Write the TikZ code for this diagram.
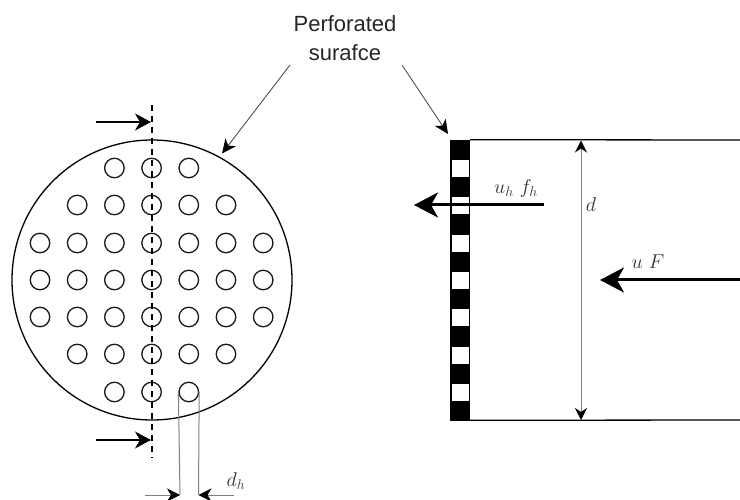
\RequirePackage{fix-cm}
\documentclass[tikz,border=0pt]{standalone}
\usepackage{fontspec}
\usetikzlibrary{arrows.meta}
\newfontfamily\labelfont{Liberation Sans}
\tikzset{
  hole/.style={circle,draw=black!90,line width=1.3pt,minimum size=19.5pt,inner sep=0pt},
  wall/.style={draw=black,fill=black,minimum width=19.5pt,minimum height=280pt,inner sep=0pt,line width=0.6pt},
  slot/.style={fill=white,draw=none,minimum width=17pt,minimum height=17pt,inner sep=0pt},
  bigtip/.style={-{Stealth[length=24pt,width=25pt,inset=7pt]},line width=3pt},
  midtip/.style={-{Stealth[length=16pt,width=17pt,inset=5pt]},line width=1.5pt},
  thintip/.style={-{Stealth[length=14pt,width=13pt,inset=4pt,black]},line width=0.8pt,draw=black!75},
  dim/.style={{Stealth[length=12pt,width=12pt,inset=4pt,black]}-{Stealth[length=12pt,width=12pt,inset=4pt,black]},line width=1pt,draw=black!50},
  dimone/.style={-{Stealth[length=13pt,width=13pt,inset=4pt,black]},line width=1pt,draw=black!50},
  guide/.style={line width=1pt,draw=black!50},
  mathlabel/.style={inner sep=0pt,text=black!80,font=\fontsize{20}{24}\selectfont},
}
\begin{document}
\begin{tikzpicture}[x=1pt,y=-1pt]
\useasboundingbox (0,0) rectangle (740,500);
% disc
\node[circle,draw=black,line width=1.3pt,minimum size=280pt,inner sep=0pt] (disc) at (152,280) {};
\foreach \r/\yy/\cfrom/\cto in {1/168/3/5,2/205/2/6,3/243/1/7,4/280/1/7,5/317/1/7,6/354/2/6,7/392/3/5}{
  \foreach \c in {\cfrom,...,\cto}{
    \pgfmathsetmacro{\xx}{40+37.2*(\c-1)}
    \node[hole] (h\r\c) at (\xx,\yy) {};
  }
}
\coordinate (cuttop) at (152,105);
\coordinate (cutbot) at (152,458);
\draw[line width=1.3pt,dash pattern=on 6pt off 5pt] (cuttop) -- (cutbot);
\coordinate (s1) at (96,122);
\coordinate (e1) at (151,122);
\coordinate (s2) at (96,440);
\coordinate (e2) at (151,440);
\draw[midtip] (s1) -- (e1);
\draw[midtip] (s2) -- (e2);
% hole width dimension
\coordinate (dl) at (180,495);
\coordinate (dr) at (198.5,495);
\coordinate (dl0) at (145,495);
\coordinate (dr0) at (234,495);
\draw[guide] (h75.west) -- (dl);
\draw[guide] (h75.east) -- (dr);
\draw[dimone] (dl0) -- (dl);
\draw[dimone] (dr0) -- (dr);
\node[mathlabel] (dhlabel) at (236,481) {$d_h$};
% wall
\node[wall] (wall) at (460,280) {};
\foreach \i/\yy in {1/168.5,2/205.5,3/243.5,4/280.5,5/317.5,6/355.5,7/392.5}{
  \node[slot] (slot\i) at (460,\yy) {};
}
% channel
\coordinate (tr) at (740,140);
\coordinate (br) at (740,420);
\draw[line width=1.3pt] (wall.north east) -- (tr);
\draw[line width=1.3pt] (wall.south east) -- (br);
\coordinate (dtop) at (581,140.5);
\coordinate (dbot) at (581,420);
\draw[dim] (dtop) -- (dbot);
\node[mathlabel] (dlabel) at (591,205) {$d$};
% flows
\coordinate (f1s) at (543.5,205);
\coordinate (f1e) at (414,205);
\coordinate (f2s) at (740,280);
\coordinate (f2e) at (600,280);
\draw[bigtip] (f1s) -- (f1e);
\draw[bigtip] (f2s) -- (f2e);
\node[mathlabel] (uh) at (516,189) {$u_h\ f_h$};
\node[mathlabel] (uF) at (648,262) {$u\ F$};
% label
\node[inner sep=0pt,align=center,text=black!85,font=\labelfont\fontsize{22}{29}\selectfont] (lab) at (345,38) {Perforated\\surafce};
\coordinate (ls) at (290,65);
\coordinate (rs) at (402,65);
\coordinate (rtip) at (448,134);
\draw[thintip] (ls) -- ([shift={(61.6:4pt)}]disc.61.6);
\draw[thintip] (rs) -- (rtip);
\end{tikzpicture}
\end{document}
